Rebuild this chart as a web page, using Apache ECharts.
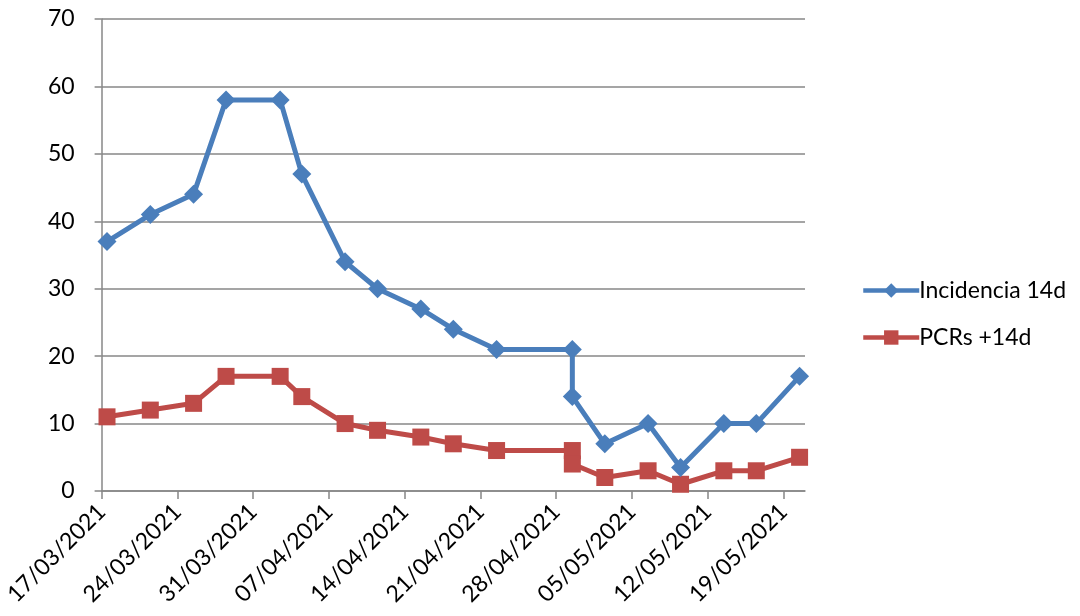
<!DOCTYPE html>
<html>
<head>
<meta charset="utf-8">
<script src="https://cdn.jsdelivr.net/npm/echarts@6/dist/echarts.min.js"></script>
<style>html,body{margin:0;padding:0;background:#fff;}#c{width:1080px;height:616px;}</style>
</head>
<body>
<div id="c"></div>
<script>
const startDate = '17/03/2021';
const totalDays = 65;
const tickStepDays = 7;
const dates = ['17/03/2021','21/03/2021','25/03/2021','28/03/2021','02/04/2021','04/04/2021','08/04/2021','11/04/2021','15/04/2021','18/04/2021','22/04/2021','29/04/2021','29/04/2021','02/05/2021','06/05/2021','09/05/2021','13/05/2021','16/05/2021','20/05/2021'];
const incidencia = [37,41,44,58,58,47,34,30,27,24,21,21,14,7,10,3.5,10,10,17];
const pcrs = [11,12,13,17,17,14,10,9,8,7,6,6,4,2,3,1,3,3,5];
const yTicks = [0,10,20,30,40,50,60,70];

function parseD(s){const p=s.split('/');return Date.UTC(+p[2],+p[1]-1,+p[0]);}
const t0 = parseD(startDate);
const DAY = 86400000;
function dayIdx(s){return Math.round((parseD(s)-t0)/DAY);}
function fmt(d){const dt=new Date(t0+d*DAY);const dd=String(dt.getUTCDate()).padStart(2,'0');const mm=String(dt.getUTCMonth()+1).padStart(2,'0');return dd+'/'+mm+'/'+dt.getUTCFullYear();}
const tickVals=[];for(let d=0;d<totalDays;d+=tickStepDays)tickVals.push(d);

const blueData = dates.map((d,i)=>[dayIdx(d)+0.5, incidencia[i]]);
const redData = dates.map((d,i)=>[dayIdx(d)+0.5, pcrs[i]]);
const FONT = 'Lato';
const axisCol = '#878787';

const chart = echarts.init(document.getElementById('c'));
chart.setOption({
  animation:false,
  backgroundColor:'#fff',
  grid:{left:101.6,right:275,top:19,bottom:125,containLabel:false},
  legend:{
    orient:'vertical',left:856,top:274,itemGap:24,itemWidth:56,itemHeight:18,
    lineStyle:{width:4.5},
    textStyle:{fontFamily:FONT,fontSize:23,color:'#000',padding:[0,0,0,-5]},
    data:['Incidencia 14d','PCRs +14d']
  },
  xAxis:{
    type:'value',min:0,max:totalDays,
    splitLine:{show:false},
    axisLine:{lineStyle:{color:axisCol,width:1.5}},
    axisTick:{show:true,length:8,inside:false,customValues:tickVals,lineStyle:{color:axisCol,width:1.5}},
    axisLabel:{customValues:tickVals,rotate:45,margin:17,padding:[20,0,0,0],fontFamily:FONT,fontSize:23,color:'#000',formatter:v=>fmt(v)}
  },
  yAxis:{
    type:'value',min:0,max:70,interval:10,
    axisLine:{show:true,lineStyle:{color:axisCol,width:1.5}},
    axisTick:{show:true,length:7,lineStyle:{color:axisCol,width:1.5}},
    splitLine:{lineStyle:{color:axisCol,width:1.5}},
    axisLabel:{customValues:yTicks,margin:27,fontFamily:FONT,fontSize:23,color:'#000'}
  },
  series:[
    {name:'Incidencia 14d',type:'line',data:blueData,symbol:'diamond',symbolSize:19,
     lineStyle:{color:'#4A7EBB',width:5},itemStyle:{color:'#4A7EBB'},z:3},
    {name:'PCRs +14d',type:'line',data:redData,symbol:'rect',symbolSize:17,
     lineStyle:{color:'#BE4B48',width:5},itemStyle:{color:'#BE4B48'},z:2}
  ]
});
</script>
</body>
</html>
